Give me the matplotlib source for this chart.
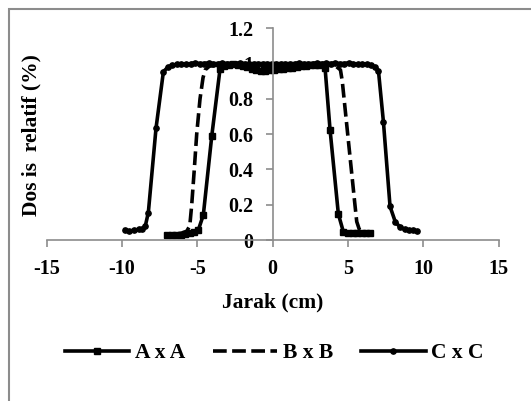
import matplotlib
matplotlib.use("Agg")
import matplotlib.pyplot as plt
from matplotlib.patches import Rectangle

plt.rcParams['font.family'] = ['Liberation Serif', 'DejaVu Serif']
plt.rcParams['font.weight'] = 'bold'

# Dose profiles (relative dose vs. off-axis distance in cm)
A_x = [-7.0, -6.7, -6.4, -6.1, -5.8, -5.5, -5.2, -4.93, -4.6, -4.04, -3.49,
       -3.2, -2.9, -2.6, -2.3, -2.0, -1.7, -1.4, -1.1, -0.8, -0.5, -0.2,
       0.1, 0.4, 0.7, 1.0, 1.3, 1.6, 1.9, 2.2, 2.5, 2.8, 3.1,
       3.48, 3.81, 4.36, 4.69, 5.0, 5.3, 5.6, 5.9, 6.2, 6.46]
A_y = [0.028, 0.028, 0.03, 0.03, 0.035, 0.04, 0.045, 0.057, 0.142, 0.59, 0.97,
       0.985, 0.99, 1.0, 0.99, 0.985, 0.98, 0.97, 0.965, 0.96, 0.96, 0.965,
       0.965, 0.97, 0.97, 0.975, 0.975, 0.98, 0.985, 0.985, 0.99, 0.99, 0.99,
       0.973, 0.624, 0.147, 0.047, 0.04, 0.04, 0.038, 0.038, 0.038, 0.038]

B_x = [-6.3, -6.0, -5.7, -5.5, -5.37, -5.2, -5.04, -4.82, -4.62, -4.47,
       -4.2, -3.8, -3.4, -3.0, -2.6, -2.2, -1.8, -1.4, -1.0, -0.6, -0.2,
       0.2, 0.6, 1.0, 1.4, 1.8, 2.2, 2.6, 3.0, 3.4, 3.8, 4.2,
       4.5, 4.62, 4.74, 4.98, 5.22, 5.46, 5.58, 5.75, 6.0, 6.3]
B_y = [0.035, 0.04, 0.05, 0.08, 0.2, 0.4, 0.6, 0.8, 0.92, 0.965,
       0.985, 0.99, 0.995, 1.0, 1.0, 0.995, 0.99, 0.99, 0.985, 0.985, 0.985,
       0.985, 0.985, 0.99, 0.99, 0.995, 0.995, 1.0, 1.0, 0.995, 0.99, 0.985,
       0.964, 0.9, 0.8, 0.6, 0.4, 0.2, 0.104, 0.06, 0.045, 0.04]

C_x = [-9.8, -9.5, -9.2, -8.9, -8.65, -8.45, -8.25, -7.74, -7.25, -6.95, -6.65,
       -6.35, -6.05, -5.75, -5.45, -5.15, -4.85, -4.55, -4.25, -3.95, -3.65,
       -3.35, -3.05, -2.75, -2.45, -2.15, -1.85, -1.55, -1.25, -0.95, -0.65,
       -0.35, -0.05, 0.25, 0.55, 0.85, 1.15, 1.45, 1.75, 2.05, 2.35,
       2.65, 2.95, 3.25, 3.55, 3.85, 4.15, 4.45, 4.75, 5.05, 5.35,
       5.65, 5.95, 6.25, 6.55,
       6.8, 7.02, 7.35, 7.79, 8.15, 8.45, 8.75, 9.05, 9.3, 9.56]
C_y = [0.057, 0.05, 0.055, 0.06, 0.065, 0.08, 0.155, 0.633, 0.954, 0.98, 0.99,
       0.995, 1.0, 0.995, 1.0, 1.005, 1.0, 1.0, 1.005, 1.0, 1.0,
       1.005, 1.0, 1.0, 1.0, 1.005, 1.0, 1.0, 1.0, 1.0, 1.0,
       1.0, 1.0, 1.0, 1.0, 1.0, 1.0, 1.0, 1.005, 1.0, 1.0,
       1.0, 1.005, 1.0, 1.005, 1.0, 1.005, 1.0, 1.0, 1.005, 1.0,
       0.995, 1.0, 0.995, 0.99,
       0.98, 0.96, 0.67, 0.19, 0.1, 0.075, 0.06, 0.055, 0.055, 0.05]

labels = ["A x A", "B x B", "C x C"]
x_ticks = [-15, -10, -5, 0, 5, 10, 15]
y_ticks = [0, 0.2, 0.4, 0.6, 0.8, 1, 1.2]
y_tick_labels = ["0", "0.2", "0.4", "0.6", "0.8", "1", "1.2"]

W, H = 531, 401
fig = plt.figure(figsize=(W / 100, H / 100), dpi=100)
ax = fig.add_axes([46.6 / W, 1 - 240 / H, (498.7 - 46.6) / W, (240 - 28.3) / H])

grey = '#8c8c8c'
ax.plot(A_x, A_y, color='black', lw=2.6, marker='s', ms=4.8, label=labels[0])
ax.plot(B_x, B_y, color='black', lw=2.6, dashes=(3.8, 1.5), label=labels[1])
ax.plot(C_x, C_y, color='black', lw=2.6, marker='o', ms=3.8, label=labels[2])

ax.set_xlim(-15, 15)
ax.set_ylim(0, 1.2)
ax.set_xticks(x_ticks)
ax.set_xticklabels([str(t) for t in x_ticks])
ax.set_yticks(y_ticks)
ax.set_yticklabels(y_tick_labels)

for s in ['top', 'right']:
    ax.spines[s].set_visible(False)
ax.spines['left'].set_position(('data', 0))
ax.spines['bottom'].set_position(('data', 0))
for s in ['left', 'bottom']:
    ax.spines[s].set_color(grey)
    ax.spines[s].set_linewidth(1.2)

ax.tick_params(axis='x', direction='out', length=5, width=1.2, color=grey,
               labelsize=14.5, pad=9)
ax.tick_params(axis='y', direction='out', length=5, width=1.2, color=grey,
               labelsize=14.5, pad=9)
for lbl in ax.get_xticklabels() + ax.get_yticklabels():
    lbl.set_fontweight('bold')

fig.text(273 / W, 1 - 302 / H, "Jarak (cm)", ha='center', va='center',
         fontsize=15.5, fontweight='bold')
fig.text(31 / W, 1 - 135 / H, "Dos is  relatif (%)", ha='center', va='center',
         rotation=90, fontsize=15.5, fontweight='bold')

leg = fig.legend(loc='center', bbox_to_anchor=(274 / W, 1 - 353 / H), ncol=3,
                 frameon=False, fontsize=15.5, handlelength=3.0,
                 handletextpad=0.25, columnspacing=1.3)
for t in leg.get_texts():
    t.set_fontweight('bold')

# outer frame
fig.patches.append(Rectangle((8.5 / W, -0.1), 1.2, (H - 8.5) / H + 0.1,
                             transform=fig.transFigure, fill=False,
                             edgecolor=grey, lw=1.5))

fig.savefig("out.png", dpi=100)
